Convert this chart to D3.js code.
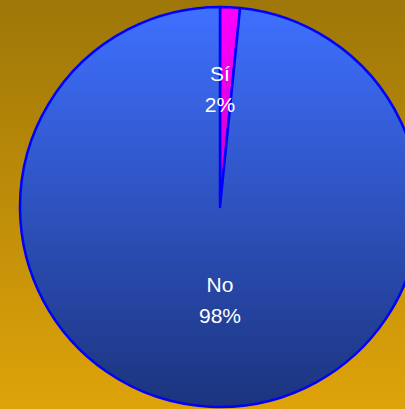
<!DOCTYPE html>
<html><head><meta charset="utf-8">
<script src="https://cdn.jsdelivr.net/npm/d3@7"></script>
<style>html,body{margin:0;padding:0;overflow:hidden;background:#fff}</style>
</head><body>
<script>
const categories = ["Sí", "No"];
const values = [1.6, 98.4];
const labels = ["2%", "98%"];

const W = 405, H = 409;
const cx = 220, cy = 207, R = 200;

const svg = d3.select("body").append("svg").attr("width", W).attr("height", H);
const defs = svg.append("defs");

const bg = defs.append("linearGradient").attr("id", "bg").attr("x1", 0).attr("y1", 0).attr("x2", 0).attr("y2", 1);
bg.append("stop").attr("offset", "0%").attr("stop-color", "#9E7708");
bg.append("stop").attr("offset", "100%").attr("stop-color", "#DEA30A");
svg.append("rect").attr("width", W).attr("height", H).attr("fill", "url(#bg)");

const gradColors = [["#FF00FF", "#8A008A"], ["#3F70FF", "#1C347E"]];
gradColors.forEach((c, i) => {
  const g = defs.append("linearGradient").attr("id", "g" + i)
    .attr("gradientUnits", "userSpaceOnUse")
    .attr("x1", 0).attr("y1", -R).attr("x2", 0).attr("y2", R);
  g.append("stop").attr("offset", "0%").attr("stop-color", c[0]);
  g.append("stop").attr("offset", "100%").attr("stop-color", c[1]);
});

const pie = d3.pie().sort(null).value(d => d)(values);
const arc = d3.arc().innerRadius(0).outerRadius(R);
const labelRadii = [122, 89];

const g = svg.append("g").attr("transform", `translate(${cx},${cy})`);
g.selectAll("path").data(pie).join("path")
  .attr("d", arc)
  .attr("fill", (d, i) => `url(#g${i})`)
  .attr("stroke", "#0000FF")
  .attr("stroke-width", 2.5)
  .attr("stroke-linejoin", "round");

pie.forEach((d, i) => {
  const a = (d.startAngle + d.endAngle) / 2;
  const r = labelRadii[i];
  const py = -Math.cos(a) * r;
  const t = g.append("text")
    .attr("text-anchor", "middle")
    .attr("font-family", "Liberation Sans, Arial, sans-serif")
    .attr("font-size", 21)
    .attr("fill", "#FFFFFF");
  t.append("tspan").attr("x", 0).attr("y", py - 4).text(categories[i]);
  t.append("tspan").attr("x", 0).attr("y", py + 27).text(labels[i]);
});
</script>
</body></html>
